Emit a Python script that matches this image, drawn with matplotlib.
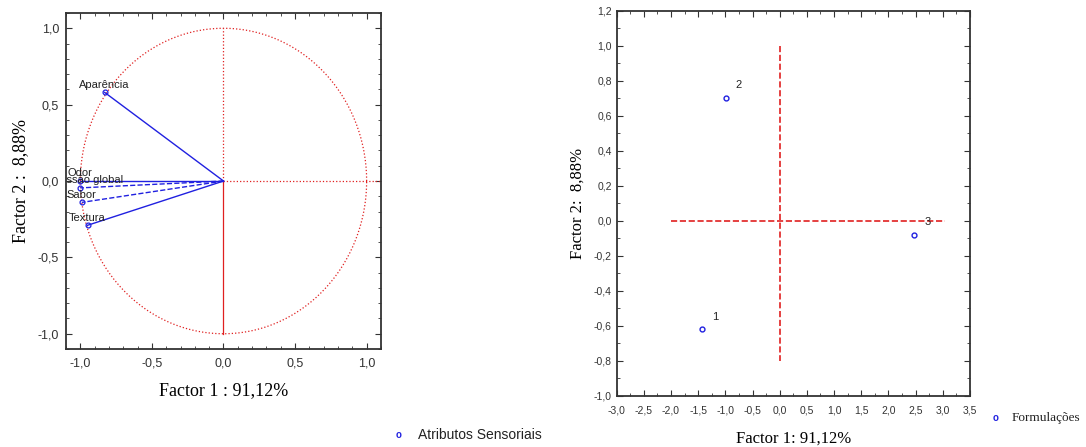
import numpy as np
import matplotlib
matplotlib.use('Agg')
import matplotlib.pyplot as plt
from matplotlib.ticker import FuncFormatter, MultipleLocator

# loadings (circle of correlations)
attr_names = ['Aparência', 'Odor', 'Impressão global', 'Sabor', 'Textura']
attr_f1 = [-0.83, -1.00, -1.00, -0.99, -0.95]
attr_f2 = [0.58, 0.00, -0.045, -0.14, -0.29]
attr_style = ['-', '-', '--', '--', '-']

# scores of the formulations
form_names = ['1', '2', '3']
form_f1 = [-1.43, -0.99, 2.48]
form_f2 = [-0.62, 0.705, -0.08]

SANS = ['Liberation Sans', 'DejaVu Sans']
SERIF = ['Liberation Serif', 'DejaVu Serif']
BLUE = '#2020e0'
RED = '#e02020'

comma = FuncFormatter(lambda v, p: ('%.1f' % v).replace('.', ','))


def style_axes(ax, fs):
    ax.tick_params(which='both', direction='in', top=True, right=True,
                   colors='#333333', labelsize=fs)
    ax.tick_params(which='major', length=4, width=0.8)
    ax.tick_params(which='minor', length=2, width=0.6)
    for lab in ax.get_xticklabels() + ax.get_yticklabels():
        lab.set_family(SANS)
    for s in ax.spines.values():
        s.set_linewidth(1.3)
        s.set_color('#333333')
    ax.xaxis.set_major_formatter(comma)
    ax.yaxis.set_major_formatter(comma)


def main():
    fig = plt.figure(figsize=(10.86, 4.47), dpi=100)

    # left: correlation circle
    ax1 = fig.add_axes([0.0608, 0.2192, 0.290, 0.7517])
    t = np.linspace(0, 2 * np.pi, 400)
    ax1.plot(np.cos(t), np.sin(t), ':', color=RED, lw=0.9)
    ax1.plot([0, 0], [0, 1], ':', color=RED, lw=0.9)
    ax1.plot([0, 0], [0, -1], '-', color=RED, lw=0.9)
    ax1.plot([0, 1.1], [0, 0], ':', color=RED, lw=0.9)
    for name, x, y, ls in zip(attr_names, attr_f1, attr_f2, attr_style):
        ax1.plot([0, x], [0, y], ls, color=BLUE, lw=1.0)
        ax1.plot(x, y, 'o', mfc='none', mec=BLUE, ms=3.5, mew=0.9)
        ax1.annotate(name, (x, y), xytext=(0, 2), textcoords='offset points',
                     ha='center', va='bottom', fontsize=8, family=SANS,
                     color='#222222', annotation_clip=False, clip_on=True)
    ax1.set_xlim(-1.1, 1.1)
    ax1.set_ylim(-1.1, 1.1)
    ax1.xaxis.set_major_locator(MultipleLocator(0.5))
    ax1.yaxis.set_major_locator(MultipleLocator(0.5))
    ax1.xaxis.set_minor_locator(MultipleLocator(0.1))
    ax1.yaxis.set_minor_locator(MultipleLocator(0.1))
    style_axes(ax1, 9)
    ax1.tick_params(axis='x', pad=6)
    ax1.tick_params(axis='y', pad=5)
    ax1.set_xlabel('Factor 1 : 91,12%', family=SERIF, fontsize=13, labelpad=9)
    ax1.set_ylabel('Factor 2 :  8,88%', family=SERIF, fontsize=13, labelpad=6)

    # right: scores
    ax2 = fig.add_axes([0.5678, 0.1141, 0.3253, 0.8613])
    ax2.plot([0, 0], [1.0, -0.8], '--', color=RED, lw=1.2)
    ax2.plot([-2.0, 3.05], [0, 0], '--', color=RED, lw=1.2)
    ax2.plot(form_f1, form_f2, 'o', mfc='none', mec=BLUE, ms=3.5, mew=1.0)
    for name, x, y in zip(form_names, form_f1, form_f2):
        ax2.annotate(name, (x, y), xytext=(7, 7), textcoords='offset points',
                     fontsize=8, family=SANS, color='#222222')
    ax2.set_xlim(-3.0, 3.5)
    ax2.set_ylim(-1.0, 1.2)
    ax2.xaxis.set_major_locator(MultipleLocator(0.5))
    ax2.yaxis.set_major_locator(MultipleLocator(0.2))
    ax2.xaxis.set_minor_locator(MultipleLocator(0.25))
    ax2.yaxis.set_minor_locator(MultipleLocator(0.1))
    style_axes(ax2, 7.5)
    ax2.tick_params(axis='x', pad=7)
    ax2.set_xlabel('Factor 1: 91,12%', family=SERIF, fontsize=12, labelpad=11)
    ax2.set_ylabel('Factor 2:  8,88%', family=SERIF, fontsize=12, labelpad=6)

    # legends
    fig.text(399 / 1086, 1 - 435 / 447, 'o', color=BLUE, fontsize=7,
             ha='center', va='center', family=SANS, weight='bold')
    fig.text(418 / 1086, 1 - 435 / 447, 'Atributos Sensoriais', fontsize=10,
             family=SANS, va='center', color='#222222')
    fig.text(996 / 1086, 1 - 418 / 447, 'o', color=BLUE, fontsize=7,
             ha='center', va='center', family=SANS, weight='bold')
    fig.text(1012 / 1086, 1 - 418 / 447, 'Formulações', fontsize=9.5,
             family=SERIF, va='center', color='#222222')

    fig.savefig('out.png', dpi=100)


if __name__ == '__main__':
    main()
